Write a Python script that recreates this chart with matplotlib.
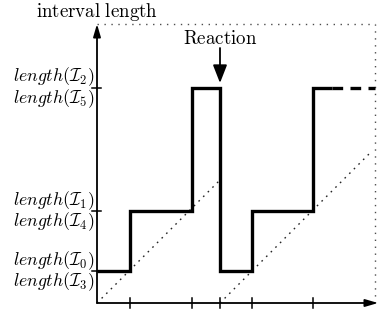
import matplotlib
matplotlib.use("Agg")
import matplotlib.pyplot as plt

plt.rcParams['mathtext.fontset'] = 'cm'

# data (time units vs interval length units)
tick_times = [33, 95, 123, 155, 216]
step_times = [0, 33, 95, 123, 155, 216, 235]
step_lengths = [32, 92, 215, 32, 92, 215]
dashed_end = 278
level_values = [32, 92, 215]
level_labels_upper = [r"$length(\mathcal{I}_0)$", r"$length(\mathcal{I}_1)$", r"$length(\mathcal{I}_2)$"]
level_labels_lower = [r"$length(\mathcal{I}_3)$", r"$length(\mathcal{I}_4)$", r"$length(\mathcal{I}_5)$"]
reaction_time = 123
box_top = 279
box_right = 278
x_axis_end = 281
y_axis_end = 279

fig = plt.figure(figsize=(3.86, 3.18), dpi=100)
ax = fig.add_axes([0, 0, 1, 1])
ax.set_xlim(-97, 386 - 97)
ax.set_ylim(-15, 303)
ax.axis('off')

# dotted box
ax.plot([0, box_right], [box_top, box_top], ls=(0, (1, 4)), color='0.3', lw=1.0)
ax.plot([box_right, box_right], [0, box_top], ls=(0, (1, 4)), color='0.3', lw=1.0)

# dotted diagonals
ax.plot([0, reaction_time], [0, reaction_time], ls=(0, (1.2, 3.5)), color='0.15', lw=1.0)
ax.plot([reaction_time, box_right - 3], [0, box_right - 3 - reaction_time], ls=(0, (1.2, 3.5)), color='0.15', lw=1.0)

# axes with arrows
ax.annotate('', xy=(x_axis_end, 0), xytext=(0, 0),
            arrowprops=dict(arrowstyle='-|>,head_length=0.75,head_width=0.22', color='black', lw=1.3, shrinkA=0, shrinkB=0))
ax.annotate('', xy=(0, y_axis_end), xytext=(0, 0),
            arrowprops=dict(arrowstyle='-|>,head_length=0.75,head_width=0.22', color='black', lw=1.3, shrinkA=0, shrinkB=0))

# ticks
for t in tick_times:
    ax.plot([t, t], [-5, 5], color='black', lw=1.1)
for v in level_values:
    ax.plot([-5, 4], [v, v], color='black', lw=1.1)

# step line
ax.step(step_times, step_lengths + [step_lengths[-1]], where='post', color='black', lw=2.4,
        solid_joinstyle='miter', solid_capstyle='butt')
ax.plot([step_times[-1], dashed_end], [step_lengths[-1]] * 2, color='black', lw=2.4,
        ls=(0, (3.2, 2.2)), dash_capstyle='butt')

# level labels
for v, up, lo in zip(level_values, level_labels_upper, level_labels_lower):
    ax.text(-3, v - 0.5, up, ha='right', va='bottom', fontsize=12.8)
    ax.text(-3, v + 0.5, lo, ha='right', va='top', fontsize=12.8)

# title
ax.text(0, 291, r"$\mathrm{interval\ length}$", ha='center', va='center', fontsize=13.6)

# reaction annotation
ax.text(reaction_time, 265, r"$\mathrm{Reaction}$", ha='center', va='center', fontsize=13.6)
ax.annotate('', xy=(reaction_time, 220), xytext=(reaction_time, 255),
            arrowprops=dict(arrowstyle='-|>,head_length=1.1,head_width=0.43', color='black', lw=1.3, shrinkA=0, shrinkB=0))

fig.savefig('out.png', dpi=100)
